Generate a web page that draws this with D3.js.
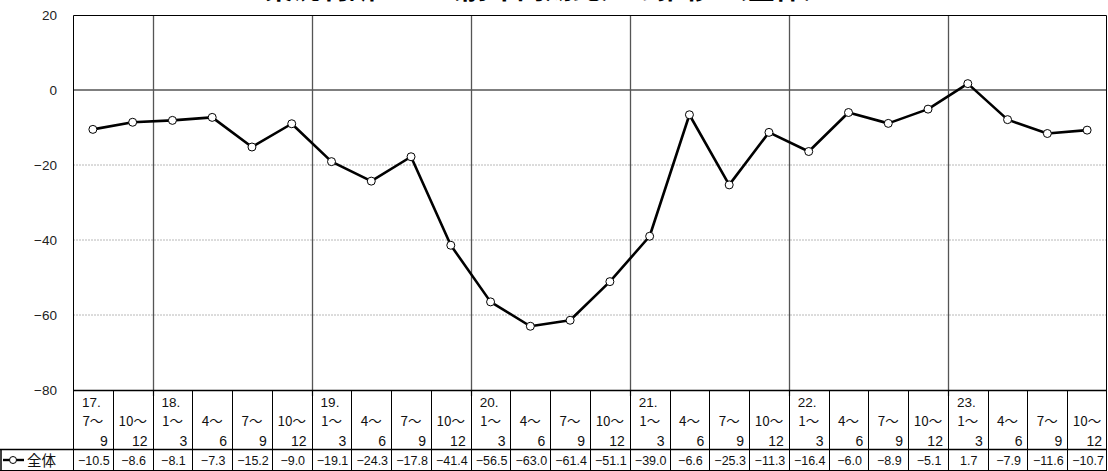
<!DOCTYPE html>
<html>
<head>
<meta charset="utf-8">
<script src="https://cdn.jsdelivr.net/npm/d3@7"></script>
<style>
  body { margin: 0; background: #fff; }
  svg { display: block; }
</style>
</head>
<body>
<div id="chart"></div>
<script>
// quarter labels: year prefix (only on Jan-Mar, plus first column), start month, end month
const years = ["17.", "", "18.", "", "", "", "19.", "", "", "", "20.", "", "", "", "21.", "", "", "", "22.", "", "", "", "23.", "", "", ""];
const startMonths = ["7～", "10～", "1～", "4～", "7～", "10～", "1～", "4～", "7～", "10～", "1～", "4～", "7～", "10～", "1～", "4～", "7～", "10～", "1～", "4～", "7～", "10～", "1～", "4～", "7～", "10～"];
const endMonths = ["9", "12", "3", "6", "9", "12", "3", "6", "9", "12", "3", "6", "9", "12", "3", "6", "9", "12", "3", "6", "9", "12", "3", "6", "9", "12"];
// 業況判断DI 全体
const values = [-10.5, -8.6, -8.1, -7.3, -15.2, -9.0, -19.1, -24.3, -17.8, -41.4, -56.5, -63.0, -61.4, -51.1, -39.0, -6.6, -25.3, -11.3, -16.4, -6.0, -8.9, -5.1, 1.7, -7.9, -11.6, -10.7];
const yTicks = [20, 0, -20, -40, -60, -80];
const seriesName = "全体";

const width = 1108, height = 471;
const plotLeft = 73, plotRight = 1107, plotTop = 15, plotBottom = 390;
const headerBottom = 449, tableBottom = 471;

const jp = "'Noto Sans CJK JP', sans-serif";
const num = "'Liberation Sans', Arial, sans-serif";

const svg = d3.select("#chart").append("svg")
  .attr("width", width)
  .attr("height", height);

const x = d3.scaleBand()
  .domain(d3.range(values.length))
  .range([plotLeft, plotRight])
  .padding(0);

const y = d3.scaleLinear()
  .domain([-80, 20])
  .range([plotBottom, plotTop]);

// title (mostly above the visible area, as in the original)
svg.append("text")
  .attr("x", 548)
  .attr("y", -1)
  .attr("text-anchor", "middle")
  .attr("font-family", jp)
  .attr("font-weight", "bold")
  .attr("font-size", 28)
  .text("業況判断ＤＩ（前年同期比）の推移 （全体）");

// dotted gridlines
svg.append("g")
  .selectAll("line")
  .data(yTicks.filter(d => d < 0 && d > -80))
  .enter().append("line")
  .attr("x1", plotLeft).attr("x2", plotRight)
  .attr("y1", d => y(d)).attr("y2", d => y(d))
  .attr("stroke", "#b8b8b8")
  .attr("stroke-dasharray", "2,1");

// zero line
svg.append("line")
  .attr("x1", plotLeft).attr("x2", plotRight)
  .attr("y1", y(0)).attr("y2", y(0))
  .attr("stroke", "#555")
  .attr("stroke-width", 1.3);

// year separators
const yearStarts = years.map((d, i) => i).filter(i => years[i] !== "" && i > 0);
svg.append("g")
  .selectAll("line")
  .data(yearStarts)
  .enter().append("line")
  .attr("x1", d => Math.round(x(d)) + 0.5).attr("x2", d => Math.round(x(d)) + 0.5)
  .attr("y1", plotTop).attr("y2", plotBottom + 6)
  .attr("stroke", "#555")
  .attr("stroke-width", 1.3);

// plot frame (top, left, right)
svg.append("path")
  .attr("d", `M${plotLeft + 0.5},${plotBottom} V${plotTop + 0.5} H${plotRight - 0.5} V${plotBottom}`)
  .attr("fill", "none")
  .attr("stroke", "#000");

// y axis labels
svg.append("g")
  .selectAll("text")
  .data(yTicks)
  .enter().append("text")
  .attr("x", 57)
  .attr("y", d => y(d) + 5)
  .attr("text-anchor", "end")
  .attr("font-family", num)
  .attr("font-size", 13.5)
  .attr("fill", "#222")
  .text(d => d < 0 ? "−" + Math.abs(d) : d);

// line
const line = d3.line()
  .x((d, i) => x(i) + x.bandwidth() / 2)
  .y(d => y(d));

svg.append("path")
  .datum(values)
  .attr("d", line)
  .attr("fill", "none")
  .attr("stroke", "#000")
  .attr("stroke-width", 2.6)
  .attr("stroke-linejoin", "round");

svg.append("g")
  .selectAll("circle")
  .data(values)
  .enter().append("circle")
  .attr("cx", (d, i) => x(i) + x.bandwidth() / 2)
  .attr("cy", d => y(d))
  .attr("r", 4)
  .attr("fill", "#fff")
  .attr("stroke", "#000")
  .attr("stroke-width", 1);

// data table
const table = svg.append("g");
const cellBorder = "#000";

// horizontal table lines
table.append("line")
  .attr("x1", plotLeft).attr("x2", plotRight)
  .attr("y1", plotBottom + 0.5).attr("y2", plotBottom + 0.5)
  .attr("stroke", cellBorder).attr("stroke-width", 1.5);
table.append("line")
  .attr("x1", 0).attr("x2", plotRight)
  .attr("y1", headerBottom + 0.5).attr("y2", headerBottom + 0.5)
  .attr("stroke", cellBorder).attr("stroke-width", 1.5);
table.append("line")
  .attr("x1", 0).attr("x2", plotRight)
  .attr("y1", tableBottom - 0.5).attr("y2", tableBottom - 0.5)
  .attr("stroke", cellBorder);

// vertical table lines
const colEdges = d3.range(values.length + 1).map(i => i < values.length ? x(i) : plotRight - 1);
table.selectAll(".vline")
  .data(colEdges)
  .enter().append("line")
  .attr("class", "vline")
  .attr("x1", d => Math.round(d) + 0.5).attr("x2", d => Math.round(d) + 0.5)
  .attr("y1", plotBottom).attr("y2", tableBottom)
  .attr("stroke", cellBorder);
table.append("line")
  .attr("x1", 1).attr("x2", 1)
  .attr("y1", headerBottom).attr("y2", tableBottom)
  .attr("stroke", cellBorder).attr("stroke-width", 1.5);

// header cells
const header = table.selectAll(".hdr")
  .data(values.map((d, i) => i))
  .enter().append("g")
  .attr("class", "hdr")
  .attr("fill", "#111");

header.append("text")
  .attr("x", i => x(i) + 9)
  .attr("y", 407)
  .attr("font-family", num)
  .attr("font-size", 13.5)
  .text(i => years[i]);
header.append("text")
  .attr("x", i => x(i) + x.bandwidth() / 2)
  .attr("y", 426)
  .attr("text-anchor", "middle")
  .attr("font-family", jp)
  .attr("font-size", 13.5)
  .text(i => startMonths[i]);
header.append("text")
  .attr("x", i => x(i) + x.bandwidth() - 5)
  .attr("y", 446)
  .attr("text-anchor", "end")
  .attr("font-family", num)
  .attr("font-size", 14)
  .text(i => endMonths[i]);

// value cells
table.selectAll(".val")
  .data(values)
  .enter().append("text")
  .attr("class", "val")
  .attr("x", (d, i) => x(i) + x.bandwidth() / 2 + 1)
  .attr("y", 465)
  .attr("text-anchor", "middle")
  .attr("font-family", num)
  .attr("font-size", 12.5)
  .attr("fill", "#111")
  .text(d => (d < 0 ? "−" : "") + Math.abs(d).toFixed(1));

// legend cell
const lg = table.append("g");
lg.append("line")
  .attr("x1", 3).attr("x2", 24)
  .attr("y1", 460).attr("y2", 460)
  .attr("stroke", "#000").attr("stroke-width", 2.4);
lg.append("circle")
  .attr("cx", 13).attr("cy", 460).attr("r", 3.5)
  .attr("fill", "#fff").attr("stroke", "#000");
lg.append("text")
  .attr("x", 27).attr("y", 466)
  .attr("font-family", jp)
  .attr("font-size", 14.5)
  .attr("fill", "#111")
  .text(seriesName);
</script>
</body>
</html>
